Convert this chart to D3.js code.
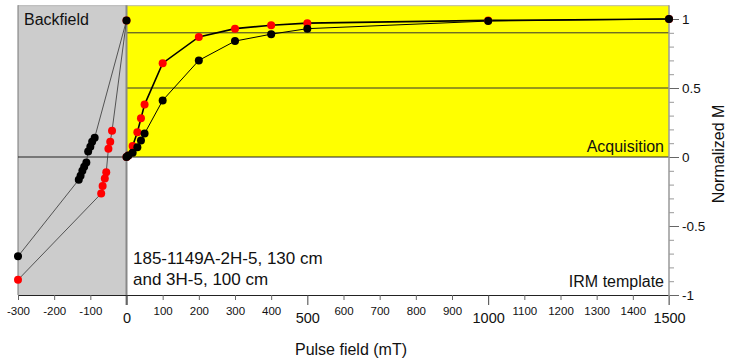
<!DOCTYPE html>
<html>
<head>
<meta charset="utf-8">
<script src="https://cdn.jsdelivr.net/npm/d3@7"></script>
<style>
  body { margin: 0; background: #fff; }
  svg { display: block; font-family: 'Liberation Sans', Arial, Helvetica, sans-serif; }
</style>
</head>
<body>
<div id="chart"></div>
<script>
// acquisition (IRM) data, field in mT
const blackField = [0, 5, 17, 30, 40, 50, 100, 200, 300, 400, 500, 1000, 1500]
const blackM = [0, 0.01, 0.03, 0.07, 0.12, 0.17, 0.41, 0.70, 0.84, 0.89, 0.93, 0.985, 1.0]
const redField = [0, 5, 17, 30, 40, 50, 100, 200, 300, 400, 500, 1000, 1500]
const redM = [0, 0.01, 0.08, 0.18, 0.28, 0.38, 0.68, 0.87, 0.93, 0.955, 0.97, 0.99, 1.0]

// backfield data
const blackBackField = [0, -88, -95, -100, -106, -111, -117, -122, -127, -132, -300]
const blackBackM = [0.99, 0.14, 0.11, 0.075, 0.04, -0.04, -0.07, -0.10, -0.135, -0.165, -0.72]
const redBackField = [0, -40, -45, -50, -56, -60, -66, -70, -300]
const redBackM = [0.99, 0.19, 0.11, 0.06, -0.11, -0.155, -0.21, -0.265, -0.89]

// ticks
const xMinorTicks = [-300, -200, -100, 100, 200, 300, 400, 600, 700, 800, 900, 1100, 1200, 1300, 1400]
const xMajorTicks = [0, 500, 1000, 1500]
const yMajorTicks = [-1, -0.5, 0, 0.5, 1]
const yMinorTicks = [-0.9, -0.8, -0.7, -0.6, -0.4, -0.3, -0.2, -0.1, 0.1, 0.2, 0.3, 0.4, 0.6, 0.7, 0.8, 0.9]
const refLines = [0.5, 0.9]

const width = 733
const height = 364

const x = d3.scaleLinear().domain([-300, 1500]).range([18, 669])
const y = d3.scaleLinear().domain([-1, 1]).range([295, 19])
const yTop = y(1.1)

const svg = d3.select('#chart').append('svg').attr('width', width).attr('height', height)

// backgrounds
svg.append('rect')
  .attr('x', x(-300)).attr('y', yTop)
  .attr('width', x(0) - x(-300)).attr('height', y(-1) - yTop)
  .attr('fill', '#cccccc')
svg.append('rect')
  .attr('x', x(0)).attr('y', yTop)
  .attr('width', x(1500) - x(0)).attr('height', y(0) - yTop)
  .attr('fill', '#ffff00')

// frame
svg.append('line')
  .attr('x1', x(-300)).attr('x2', x(1500)).attr('y1', yTop + 0.5).attr('y2', yTop + 0.5)
  .attr('stroke', '#bbb').attr('stroke-width', 1)
svg.append('line')
  .attr('x1', x(-300)).attr('x2', x(-300)).attr('y1', yTop).attr('y2', y(-1))
  .attr('stroke', '#777').attr('stroke-width', 1)

// reference lines
svg.selectAll('line.ref')
  .data(refLines)
  .enter()
  .append('line')
  .attr('class', 'ref')
  .attr('x1', x(0)).attr('x2', x(1500))
  .attr('y1', d => y(d)).attr('y2', d => y(d))
  .attr('stroke', '#333').attr('stroke-width', 1)
svg.append('line')
  .attr('x1', x(-300)).attr('x2', x(1500)).attr('y1', y(0)).attr('y2', y(0))
  .attr('stroke', '#222').attr('stroke-width', 1)

// zero field line
svg.append('line')
  .attr('x1', x(0)).attr('x2', x(0)).attr('y1', yTop).attr('y2', y(-1) + 10)
  .attr('stroke', '#888').attr('stroke-width', 2)

// x axis
const xMinor = svg.append('g')
  .attr('transform', `translate(0,${y(-1)})`)
  .call(d3.axisBottom(x).tickValues(xMinorTicks).tickSize(5).tickSizeOuter(0).tickPadding(7).tickFormat(d => String(d)))
xMinor.select('.domain').attr('stroke', '#222')
xMinor.selectAll('.tick line').attr('stroke', '#666')
xMinor.selectAll('text').attr('font-size', 11.5).attr('font-family', null).attr('fill', '#111')

const xMajor = svg.append('g')
  .attr('transform', `translate(0,${y(-1)})`)
  .call(d3.axisBottom(x).tickValues(xMajorTicks).tickSize(10).tickSizeOuter(0).tickPadding(8).tickFormat(d => String(d)))
xMajor.select('.domain').remove()
xMajor.selectAll('.tick line').attr('stroke', '#444')
xMajor.selectAll('text').attr('font-size', 14.5).attr('font-family', null).attr('fill', '#111')

// right y axis
const yMinor = svg.append('g')
  .attr('transform', `translate(${x(1500)},0)`)
  .call(d3.axisRight(y).tickValues(yMinorTicks).tickSize(5).tickSizeOuter(0).tickFormat(''))
yMinor.select('.domain').remove()
yMinor.selectAll('.tick line').attr('stroke', '#999')

const yMajor = svg.append('g')
  .attr('transform', `translate(${x(1500)},0)`)
  .call(d3.axisRight(y).tickValues(yMajorTicks).tickSize(10).tickSizeOuter(0).tickPadding(3).tickFormat(d => String(d)))
yMajor.select('.domain').remove()
yMajor.selectAll('.tick line').attr('stroke', '#666')
yMajor.selectAll('text').attr('font-size', 13.5).attr('font-family', null).attr('fill', '#111')

svg.append('line')
  .attr('x1', x(1500)).attr('x2', x(1500)).attr('y1', yTop).attr('y2', y(-1) + 10)
  .attr('stroke', '#999').attr('stroke-width', 1.5)

// axis titles
svg.append('text')
  .attr('x', 351).attr('y', 355)
  .attr('text-anchor', 'middle').attr('font-size', 16).attr('fill', '#111')
  .text('Pulse field (mT)')
svg.append('text')
  .attr('transform', 'translate(718,154) rotate(-90)')
  .attr('text-anchor', 'middle').attr('dominant-baseline', 'central')
  .attr('font-size', 16).attr('fill', '#111')
  .text('Normalized M')

// annotations
svg.append('text').attr('x', 24).attr('y', 25).attr('font-size', 16).attr('fill', '#111').text('Backfield')
svg.append('text').attr('x', 664).attr('y', 152).attr('text-anchor', 'end').attr('font-size', 16).attr('fill', '#111').text('Acquisition')
svg.append('text').attr('x', 664).attr('y', 287).attr('text-anchor', 'end').attr('font-size', 16).attr('fill', '#111').text('IRM template')
svg.append('text').attr('x', 133).attr('y', 264).attr('font-size', 17).attr('fill', '#111').text('185-1149A-2H-5, 130 cm')
svg.append('text').attr('x', 133).attr('y', 285).attr('font-size', 17).attr('fill', '#111').text('and 3H-5, 100 cm')

// series
const line = d3.line().x(d => x(d[0])).y(d => y(d[1]))
const zip = (a, b) => a.map((v, i) => [v, b[i]])

const redAcq = zip(redField, redM)
const blackAcq = zip(blackField, blackM)
const redBack = zip(redBackField, redBackM)
const blackBack = zip(blackBackField, blackBackM)

svg.append('path').datum(redBack).attr('d', line)
  .attr('fill', 'none').attr('stroke', '#333').attr('stroke-width', 0.8)
svg.append('path').datum(blackBack).attr('d', line)
  .attr('fill', 'none').attr('stroke', '#333').attr('stroke-width', 0.8)
svg.append('path').datum(redAcq).attr('d', line)
  .attr('fill', 'none').attr('stroke', '#000').attr('stroke-width', 1.6)
svg.append('path').datum(blackAcq).attr('d', line)
  .attr('fill', 'none').attr('stroke', '#000').attr('stroke-width', 1)

svg.selectAll('circle.red')
  .data(redBack.concat(redAcq))
  .enter()
  .append('circle')
  .attr('class', 'red')
  .attr('cx', d => x(d[0])).attr('cy', d => y(d[1]))
  .attr('r', 4).attr('fill', '#ff0000')

svg.selectAll('circle.black')
  .data(blackBack.concat(blackAcq))
  .enter()
  .append('circle')
  .attr('class', 'black')
  .attr('cx', d => x(d[0])).attr('cy', d => y(d[1]))
  .attr('r', 4).attr('fill', '#000')
</script>
</body>
</html>
